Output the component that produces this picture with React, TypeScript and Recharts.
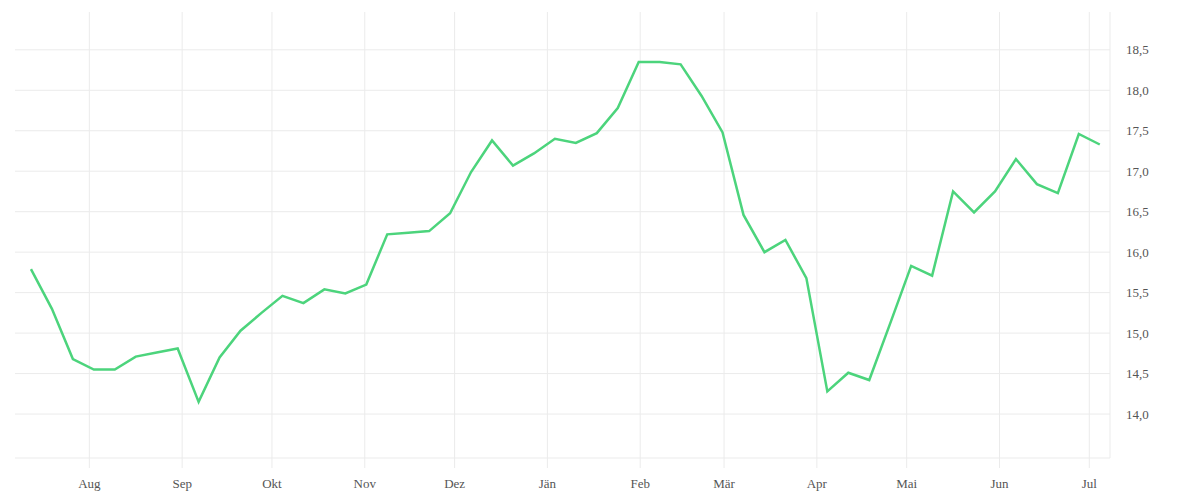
import React from "react";
import { LineChart, Line, XAxis, YAxis, CartesianGrid } from "recharts";

const dates: string[] = [
  "2022-07-12", "2022-07-19", "2022-07-26", "2022-08-02", "2022-08-09", "2022-08-16",
  "2022-08-23", "2022-08-30", "2022-09-06", "2022-09-13", "2022-09-20", "2022-09-27",
  "2022-10-04", "2022-10-11", "2022-10-18", "2022-10-25", "2022-11-01", "2022-11-08",
  "2022-11-15", "2022-11-22", "2022-11-29", "2022-12-06", "2022-12-13", "2022-12-20",
  "2022-12-27", "2023-01-03", "2023-01-10", "2023-01-17", "2023-01-24", "2023-01-31",
  "2023-02-07", "2023-02-14", "2023-02-21", "2023-02-28", "2023-03-07", "2023-03-14",
  "2023-03-21", "2023-03-28", "2023-04-04", "2023-04-11", "2023-04-18", "2023-04-25",
  "2023-05-02", "2023-05-09", "2023-05-16", "2023-05-23", "2023-05-30", "2023-06-06",
  "2023-06-13", "2023-06-20", "2023-06-27", "2023-07-04",
];

const values: number[] = [
  15.79, 15.3, 14.68, 14.55, 14.55, 14.71,
  14.76, 14.81, 14.15, 14.7, 15.03, 15.25,
  15.46, 15.37, 15.54, 15.49, 15.6, 16.22,
  16.24, 16.26, 16.48, 16.99, 17.38, 17.07,
  17.22, 17.4, 17.35, 17.47, 17.78, 18.35,
  18.35, 18.32, 17.93, 17.48, 16.46, 16.0,
  16.15, 15.68, 14.28, 14.51, 14.42, 15.12,
  15.83, 15.71, 16.75, 16.49, 16.75, 17.15,
  16.84, 16.73, 17.46, 17.33,
];

const monthTickDates: string[] = [
  "2022-08-01", "2022-09-01", "2022-10-01", "2022-11-01", "2022-12-01", "2023-01-01",
  "2023-02-01", "2023-03-01", "2023-04-01", "2023-05-01", "2023-06-01", "2023-07-01",
];
const monthLabels: string[] = [
  "Aug", "Sep", "Okt", "Nov", "Dez", "Jän", "Feb", "Mär", "Apr", "Mai", "Jun", "Jul",
];

const yTicks: number[] = [14, 14.5, 15, 15.5, 16, 16.5, 17, 17.5, 18, 18.5];

const toTs = (d: string, hour = 0) => {
  const [y, m, day] = d.split("-").map(Number);
  return Date.UTC(y, m - 1, day, hour);
};

const data = dates.map((d, i) => ({ t: toTs(d, 12), v: values[i] }));
const monthTicks = monthTickDates.map((d) => toTs(d));
const xDomain: [number, number] = [Date.UTC(2022, 6, 7, 4), Date.UTC(2023, 6, 7, 22)];
const yDomain: [number, number] = [13.457, 18.967];

const GRID = "#ebebeb";
const FONT = "'Liberation Serif', serif";

const applyScale = (axis: any, v: number, fallback: () => number): number => {
  const s = axis && axis.scale;
  if (typeof s === "function") return s(v);
  if (s && typeof s.map === "function") return s.map(v);
  return fallback();
};

export default function App() {
  return (
    <LineChart
      width={1184}
      height={484}
      data={data}
      margin={{ top: 4, right: 0, left: 7, bottom: 0 }}
    >
      <CartesianGrid
        stroke={GRID}
        strokeWidth={1}
        horizontalCoordinatesGenerator={(props: any) =>
          yTicks.map((t) =>
            applyScale(props.yAxis, t, () => {
              const o = props.offset;
              return o.top + (1 - (t - yDomain[0]) / (yDomain[1] - yDomain[0])) * o.height;
            })
          )
        }
        verticalCoordinatesGenerator={(props: any) =>
          monthTicks.map((t) =>
            applyScale(props.xAxis, t, () => {
              const o = props.offset;
              return o.left + ((t - xDomain[0]) / (xDomain[1] - xDomain[0])) * o.width;
            })
          )
        }
      />
      <XAxis
        dataKey="t"
        type="number"
        domain={xDomain}
        ticks={monthTicks}
        allowDataOverflow
        height={34}
        tickFormatter={(t: number) => {
          const i = monthTicks.indexOf(t);
          return i >= 0 ? monthLabels[i] : "";
        }}
        axisLine={{ stroke: GRID }}
        tickLine={{ stroke: GRID }}
        tickSize={10}
        tickMargin={11}
        tick={{ fill: "#555", fontSize: 13, fontFamily: FONT }}
        interval={0}
      />
      <YAxis
        orientation="right"
        type="number"
        domain={yDomain}
        ticks={yTicks}
        allowDataOverflow
        width={82}
        axisLine={{ stroke: GRID }}
        tickLine={false}
        tickSize={0}
        tickMargin={16}
        tickFormatter={(v: number) => v.toFixed(1).replace(".", ",")}
        tick={{ fill: "#555", fontSize: 13, fontFamily: FONT, textAnchor: "start" }}
        interval={0}
      />
      <Line
        type="linear"
        dataKey="v"
        stroke="#4cd47c"
        strokeWidth={2.5}
        dot={false}
        activeDot={false}
        isAnimationActive={false}
      />
    </LineChart>
  );
}
